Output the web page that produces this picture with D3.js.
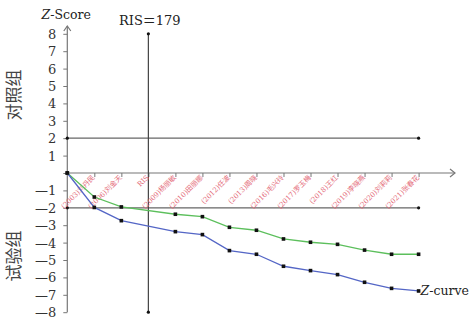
<!DOCTYPE html>
<html>
<head>
<meta charset="utf-8">
<script src="https://cdn.jsdelivr.net/npm/d3@7"></script>
<style>
  body { margin: 0; background: #fff; }
</style>
</head>
<body>
<div id="plot-container"></div>
<script>
// trial labels along the x axis (RIS marks the required information size)
const categories = ['(2003)刘丹民', '(2006)刘金天', 'RIS', '(2009)杨丽敏', '(2010)田丽娜', '(2012)任波',
  '(2013)周晓', '(2016)毛兴玲', '(2017)罗玉梅', '(2018)王红', '(2019)李晓燕', '(2020)刘莉莉', '(2021)张春花'];
// cumulative z values, first value is the origin, null where RIS sits
const greenZ = [0, -1.38, -1.95, null, -2.37, -2.51, -3.12, -3.29, -3.79, -3.98, -4.10, -4.43, -4.67, -4.67];
const blueZ = [0, -1.98, -2.74, null, -3.37, -3.54, -4.46, -4.67, -5.36, -5.61, -5.84, -6.28, -6.63, -6.78];
const yTicks = [8, 7, 6, 5, 4, 3, 2, 1, 0, -1, -2, -3, -4, -5, -6, -7, -8];
const boundaries = [2, -2];
const risLabel = 'RIS＝179';

const width = 469, height = 322;
const serif = '"DejaVu Serif", serif';
const cjk = '"Noto Sans CJK SC", sans-serif';

const svg = d3.select('#plot-container')
  .append('svg')
  .attr('width', width)
  .attr('height', height);

const xScale = d3.scalePoint().domain(['start', ...categories]).range([67.3, 418.6]);
const yScale = d3.scaleLinear().domain([-8, 8]).range([312.2, 33.8]);
const axisColor = '#777';

// y axis
const yAxis = d3.axisLeft(yScale).tickValues(yTicks).tickSize(4).tickFormat(d => d === 0 ? '' : (d < 0 ? '—' + (-d) : d));
const gy = svg.append('g').attr('transform', `translate(${xScale('start')},0)`).call(yAxis)
  .attr('font-family', serif);
gy.select('.domain').remove();
gy.selectAll('.tick line').attr('stroke', axisColor);
gy.selectAll('.tick text').attr('font-size', 13).attr('fill', '#333').attr('x', -11).attr('dy', '0.35em')
  .attr('font-family', serif);
svg.append('line').attr('x1', xScale('start')).attr('x2', xScale('start'))
  .attr('y1', yScale(-8)).attr('y2', 26).attr('stroke', axisColor).attr('stroke-width', 1.2);
svg.append('path').attr('d', `M${xScale('start') - 3.5},${31} L${xScale('start')},${26} L${xScale('start') + 3.5},${31}`)
  .attr('fill', 'none').attr('stroke', axisColor).attr('stroke-width', 1.2);

// x axis
const xAxis = d3.axisBottom(xScale).tickValues(categories).tickSize(4).tickFormat('');
const gx = svg.append('g').attr('transform', `translate(0,${yScale(0)})`).call(xAxis);
gx.select('.domain').remove();
gx.selectAll('.tick line').attr('stroke', axisColor);
svg.append('line').attr('x1', xScale('start')).attr('x2', 455)
  .attr('y1', yScale(0)).attr('y2', yScale(0)).attr('stroke', axisColor).attr('stroke-width', 1.2);
svg.append('path').attr('d', `M450,${yScale(0) - 4} L455,${yScale(0)} L450,${yScale(0) + 4}`)
  .attr('fill', 'none').attr('stroke', axisColor).attr('stroke-width', 1.2);

// boundary lines at z = +2 / -2
const lastX = xScale(categories[categories.length - 1]);
boundaries.forEach(b => {
  svg.append('line').attr('x1', xScale('start')).attr('x2', lastX)
    .attr('y1', yScale(b)).attr('y2', yScale(b)).attr('stroke', '#666').attr('stroke-width', 1.2);
  [xScale('start'), lastX].forEach(x => {
    svg.append('circle').attr('cx', x).attr('cy', yScale(b)).attr('r', 1.6).attr('fill', '#111');
  });
});

// RIS vertical line
const risX = xScale('RIS');
svg.append('line').attr('x1', risX).attr('x2', risX).attr('y1', yScale(8)).attr('y2', yScale(-8))
  .attr('stroke', '#444').attr('stroke-width', 1.2);
[8, -8].forEach(v => svg.append('circle').attr('cx', risX).attr('cy', yScale(v)).attr('r', 1.6).attr('fill', '#111'));

// category labels
svg.append('g').selectAll('text')
  .data(categories)
  .enter()
  .append('text')
  .attr('transform', d => `translate(${xScale(d) + 1},${yScale(0) + 5}) rotate(-45)`)
  .attr('text-anchor', 'end')
  .attr('font-size', 7)
  .attr('fill', '#e46a78')
  .attr('font-family', serif + ', "Noto Sans CJK SC"')
  .text(d => d);

// z curves
const xs = ['start', ...categories];
const line = d3.line()
  .x(d => xScale(d[0]))
  .y(d => yScale(d[1]));

function drawCurve(values, color) {
  const pts = values.map((v, i) => [xs[i], v]).filter(d => d[1] !== null);
  svg.append('path').attr('d', line(pts)).attr('fill', 'none').attr('stroke', color).attr('stroke-width', 1.3);
  svg.append('g').selectAll('rect')
    .data(pts)
    .enter()
    .append('rect')
    .attr('x', d => xScale(d[0]) - 1.8)
    .attr('y', d => yScale(d[1]) - 1.8)
    .attr('width', 3.6).attr('height', 3.6)
    .attr('fill', '#111');
}
drawCurve(greenZ, '#5cbf5c');
drawCurve(blueZ, '#5466c6');

// titles
svg.append('text').attr('x', xScale('start') - 1).attr('y', 19).attr('text-anchor', 'middle')
  .attr('font-size', 12.5).attr('fill', '#222').attr('font-family', serif)
  .html('<tspan font-style="italic">Z</tspan>-Score');
svg.append('text').attr('x', 119).attr('y', 25).attr('font-size', 13).attr('fill', '#222')
  .attr('font-family', serif + ', "Noto Sans CJK SC"').text(risLabel);
svg.append('text').attr('x', lastX + 2).attr('y', yScale(blueZ[blueZ.length - 1]) + 4.5)
  .attr('font-size', 12.5).attr('fill', '#222').attr('font-family', serif)
  .html('<tspan font-style="italic">Z</tspan>-curve');

svg.append('text').attr('transform', 'translate(20,95) rotate(-90)').attr('text-anchor', 'middle')
  .attr('font-size', 17).attr('fill', '#444').attr('font-family', cjk).text('对照组');
svg.append('text').attr('transform', 'translate(20,256) rotate(-90)').attr('text-anchor', 'middle')
  .attr('font-size', 17).attr('fill', '#444').attr('font-family', cjk).text('试验组');
</script>
</body>
</html>
